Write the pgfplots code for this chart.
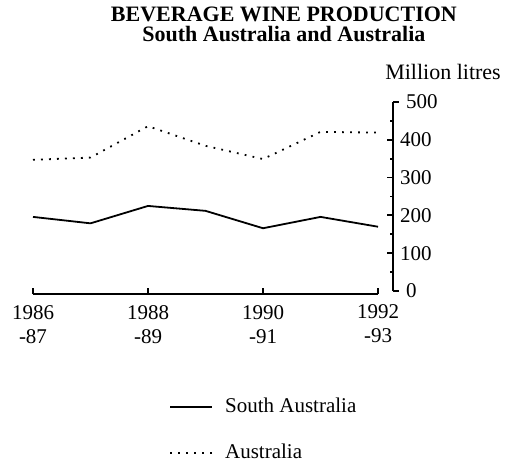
\documentclass[border=0pt]{standalone}
\usepackage{fontspec}
\setmainfont{Liberation Serif}
\usepackage{pgfplots}
\pgfplotsset{compat=1.18}
\newcommand\fs{\fontsize{10.5}{12}\selectfont}
\begin{document}
\begin{tikzpicture}
\useasboundingbox (-16.5pt,-83.5pt) rectangle (239.5pt,147pt);
\begin{axis}[
  scale only axis, width=180pt, height=96pt,
  at={(0pt,0pt)}, anchor=south west,
  xmin=1986, xmax=1992.26, ymin=-8, ymax=500,
  axis x line=bottom, axis y line=right,
  axis line style={line width=0.9pt},
  x axis line style={-, shorten >=7.5pt},
  y axis line style={-, shorten <=1.5pt},
  xtick={1986,1988,1990,1992},
  xticklabels={{1986\\-87},{1988\\-89},{1990\\-91},{1992\\-93}},
  x tick label style={align=center, font=\fs, yshift=-2pt},
  y tick label style={font=\fs},
  ytick={100,200,300,400},
  minor ytick={50,150,250,350,450},
  extra y ticks={0,500},
  extra y tick style={tick align=outside},
  tick align=inside,
  major tick length=3pt, minor tick length=1.6pt,
  tick style={line width=0.9pt, black},
  /pgf/number format/assume math mode=true,
  clip=false,
  legend cell align=left,
  legend style={at={(0.361,-0.50)}, anchor=north west, draw=none, fill=none,
    row sep=10pt, font=\fs},
  legend image code/.code={\draw[#1] (0pt,0pt) -- (21pt,0pt); \path (25pt,0pt);},
]
\addplot[black, line width=0.9pt] coordinates {(1986,196)(1987,179)(1988,225)(1989,212)(1990,166)(1991,196)(1992,170)};
\addlegendentry{South Australia}
\addplot[black, line width=0.9pt, dash pattern=on 0.9pt off 3.1pt] coordinates {(1986,347)(1987,353)(1988,436)(1989,384)(1990,349)(1991,421)(1992,419)};
\addlegendentry{Australia}
\node[align=center, font=\bfseries\fontsize{11}{10}\selectfont] at (rel axis cs:0.697,1.404) {BEVERAGE WINE PRODUCTION\\South Australia and Australia};
\node[font=\fontsize{11}{12}\selectfont] at (rel axis cs:1.139,1.156) {Million litres};
\end{axis}
\end{tikzpicture}
\end{document}
